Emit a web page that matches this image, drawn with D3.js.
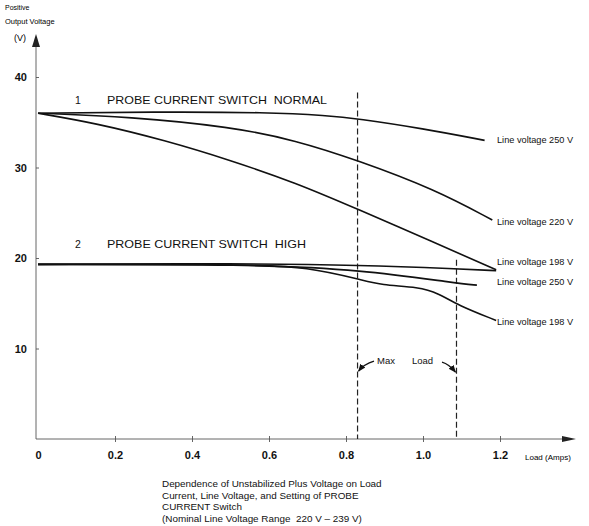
<!DOCTYPE html>
<html>
<head>
<meta charset="utf-8">
<script src="https://cdn.jsdelivr.net/npm/d3@7"></script>
<style>
	body { margin: 0; background: #fff; }
	svg { font-family: 'Liberation Sans', Arial, sans-serif; }
	svg text { white-space: pre; }
	.axis path, .axis line { stroke: #555; stroke-width: 0.9; }
	.axis text { font-size: 11px; font-weight: bold; fill: #111; }
	.curve { fill: none; stroke: #111; stroke-width: 1.6; }
	.note { fill: #111; }
</style>
</head>
<body>
<div id="chart"></div>
<script>
// Load in amps, output voltage in volts
const xTicks = [0, 0.2, 0.4, 0.6, 0.8, 1.0, 1.2];
const xTickLabels = ['0', '0.2', '0.4', '0.6', '0.8', '1.0', '1.2'];
const yTicks = [10, 20, 30, 40];

// switch NORMAL
const normal250 = [[0, 36], [0.3, 36.15], [0.6, 36.1], [0.75, 35.75], [0.83, 35.4], [1.0, 34.3], [1.16, 33.0]];
const normal220 = [[0, 36], [0.24, 35.6], [0.5, 34.5], [0.67, 33.0], [0.83, 30.8], [1.03, 27.6], [1.18, 24.2]];
const normal198 = [[0, 36], [0.15, 34.9], [0.33, 33.0], [0.5, 30.8], [0.67, 28.3], [0.83, 25.4], [1.03, 21.7], [1.19, 18.7]];

// switch HIGH
const high250 = [[0, 19.3], [0.53, 19.4], [0.84, 19.2], [1.09, 18.8], [1.19, 18.6]];
const high220 = [[0, 19.3], [0.55, 19.3], [0.84, 18.7], [1.09, 17.2], [1.14, 17.0]];
const high198 = [[0, 19.3], [0.55, 19.3], [0.7, 19.0], [0.84, 17.6], [0.89, 17.0], [0.99, 16.8], [1.04, 16.1], [1.09, 14.8], [1.19, 13.1]];

// right hand labels, in the order they stand on the page
const curveLabels = ['Line voltage 250 V', 'Line voltage 220 V', 'Line voltage 198 V', 'Line voltage 250 V', 'Line voltage 198 V'];
const labelVolts = [33.0, 24.0, 19.6, 17.4, 12.9];

// max load markers: load, top of the dashed line
const maxLoad = [[0.83, 38.3], [1.087, 19.8]];

const caption = [
	'Dependence of Unstabilized Plus Voltage on Load',
	'Current, Line Voltage, and Setting of PROBE',
	'CURRENT Switch',
	'(Nominal Line Voltage Range  220 V \u2013 239 V)'
];

const width = 589, height = 526;

const svg = d3.select('#chart').append('svg')
	.attr('width', width)
	.attr('height', height);

const defs = svg.append('defs');
defs.append('marker')
	.attr('id', 'head')
	.attr('viewBox', '0 0 10 10')
	.attr('refX', 9).attr('refY', 5)
	.attr('markerWidth', 6).attr('markerHeight', 6)
	.attr('orient', 'auto')
	.append('path')
	.attr('d', 'M0,1 L10,5 L0,9 Z')
	.attr('fill', '#111');

const x = d3.scaleLinear().domain([0, 1.2]).range([38, 500]);
const y = d3.scaleLinear().domain([0, 40]).range([439, 77]);

// axes
const xAxis = d3.axisBottom(x)
	.tickValues(xTicks)
	.tickFormat((d, i) => xTickLabels[i])
	.tickSize(3)
	.tickPadding(9);

const gx = svg.append('g')
	.attr('class', 'x axis')
	.attr('transform', `translate(0, ${y(0)})`)
	.call(xAxis);
gx.select('.domain').remove();
gx.selectAll('.tick line').attr('y1', -3);
gx.selectAll('.tick').filter(d => d === 0).select('line').remove();

const yAxis = d3.axisLeft(y)
	.tickValues(yTicks)
	.tickSize(3)
	.tickPadding(6);

const gy = svg.append('g')
	.attr('class', 'y axis')
	.attr('transform', `translate(${x(0) - 2}, 0)`)
	.call(yAxis);
gy.select('.domain').remove();
gy.selectAll('.tick line').attr('x2', 3);

svg.append('line')
	.attr('x1', x(0) - 2).attr('x2', x(0) - 2)
	.attr('y1', y(0)).attr('y2', 44)
	.attr('stroke', '#555').attr('stroke-width', 0.9);
svg.append('path')
	.attr('d', `M${x(0) - 2},34 L${x(0) - 6},47 L${x(0) + 2},47 Z`)
	.attr('fill', '#222');

svg.append('line')
	.attr('x1', x(0) - 2).attr('x2', 566)
	.attr('y1', y(0)).attr('y2', y(0))
	.attr('stroke', '#555').attr('stroke-width', 0.9);
svg.append('path')
	.attr('d', `M576,${y(0)} L562,${y(0) - 3} L562,${y(0) + 3} Z`)
	.attr('fill', '#222');

// axis titles
svg.append('text').attr('x', 5).attr('y', 10)
	.style('font-size', '7px').text('Positive');
svg.append('text').attr('x', 5).attr('y', 24)
	.style('font-size', '7.5px').text('Output Voltage');
svg.append('text').attr('x', 14).attr('y', 41)
	.style('font-size', '9px').text('(V)');
svg.append('text').attr('x', 525).attr('y', y(0) + 21)
	.style('font-size', '8px').text('Load (Amps)');

// max load dashes
svg.append('g')
	.selectAll('line')
	.data(maxLoad)
	.join('line')
	.attr('x1', d => x(d[0])).attr('x2', d => x(d[0]))
	.attr('y1', d => y(d[1])).attr('y2', y(0))
	.attr('stroke', '#222')
	.attr('stroke-width', 1.2)
	.attr('stroke-dasharray', '6,3');

// curves
const line = d3.line()
	.x(d => x(d[0]))
	.y(d => y(d[1]))
	.curve(d3.curveBasis);

const series = [normal250, normal220, normal198, high250, high220, high198];
svg.append('g')
	.selectAll('path')
	.data(series)
	.join('path')
	.attr('class', 'curve')
	.attr('d', line);

svg.append('g')
	.selectAll('text')
	.data(curveLabels)
	.join('text')
	.attr('class', 'note')
	.attr('x', x(1.2) - 3)
	.attr('y', (d, i) => y(labelVolts[i]) + 3)
	.style('font-size', '9.2px')
	.text(d => d);

// switch titles
const titles = [['1', 'PROBE CURRENT SWITCH  NORMAL', 37.0, 220], ['2', 'PROBE CURRENT SWITCH  HIGH', 21.1, 199]];
titles.forEach(t => {
	svg.append('text').attr('class', 'note')
		.attr('x', 75).attr('y', y(t[2]))
		.style('font-size', '10.5px')
		.text(t[0]);
	svg.append('text').attr('class', 'note')
		.attr('x', 107).attr('y', y(t[2]))
		.attr('textLength', t[3])
		.attr('lengthAdjust', 'spacingAndGlyphs')
		.style('font-size', '10.5px')
		.text(t[1]);
});

// max load annotation
const ay = y(8.6);
svg.append('text').attr('class', 'note')
	.attr('x', 377).attr('y', ay + 3)
	.style('font-size', '9.5px').text('Max');
svg.append('text').attr('class', 'note')
	.attr('x', 412).attr('y', ay + 3)
	.style('font-size', '9.5px').text('Load');
svg.append('path')
	.attr('d', `M374,${ay} Q364,${ay + 3} ${x(maxLoad[0][0]) + 1},${ay + 10}`)
	.attr('fill', 'none').attr('stroke', '#111').attr('stroke-width', 1.3)
	.attr('marker-end', 'url(#head)');
svg.append('path')
	.attr('d', `M442,${ay + 1} Q449,${ay + 3} ${x(maxLoad[1][0]) - 1},${ay + 11}`)
	.attr('fill', 'none').attr('stroke', '#111').attr('stroke-width', 1.3)
	.attr('marker-end', 'url(#head)');

// caption
svg.append('g')
	.selectAll('text')
	.data(caption)
	.join('text')
	.attr('class', 'note')
	.attr('x', 162)
	.attr('y', (d, i) => 487 + i * 11.5)
	.style('font-size', '9.9px')
	.text(d => d);
</script>
</body>
</html>
